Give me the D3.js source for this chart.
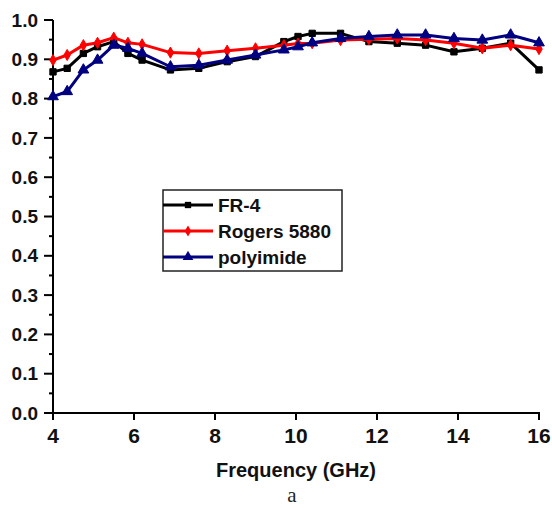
<!DOCTYPE html>
<html>
<head>
<meta charset="utf-8">
<script src="https://cdn.jsdelivr.net/npm/d3@7"></script>
<style>
    body { margin: 0; background: #fff; }
    svg { display: block; }
    .tick-label { font-family: "Liberation Sans", Arial, sans-serif; font-weight: bold; font-size: 19px; fill: #111; }
    .legend-text { font-family: "Liberation Sans", Arial, sans-serif; font-weight: bold; font-size: 19px; fill: #111; }
</style>
</head>
<body>
<svg id="chart" width="552" height="508"></svg>
<script>
'use strict';

// frequencies (GHz) of the plotted points
var freqs = [4.0, 4.35, 4.75, 5.1, 5.5, 5.85, 6.2, 6.9, 7.6, 8.3, 9.0, 9.7, 10.05, 10.4, 11.1, 11.8, 12.5, 13.2, 13.9, 14.6, 15.3, 16.0];

var fr4 = [0.868, 0.877, 0.915, 0.932, 0.945, 0.915, 0.898, 0.873, 0.877, 0.894, 0.907, 0.945, 0.958, 0.966, 0.966, 0.945, 0.941, 0.936, 0.919, 0.928, 0.941, 0.873];
var rogers = [0.898, 0.911, 0.936, 0.942, 0.955, 0.942, 0.938, 0.917, 0.915, 0.922, 0.928, 0.936, 0.940, 0.941, 0.949, 0.951, 0.953, 0.949, 0.941, 0.928, 0.936, 0.926];
var polyimide = [0.805, 0.818, 0.873, 0.898, 0.936, 0.928, 0.915, 0.881, 0.885, 0.898, 0.911, 0.924, 0.932, 0.942, 0.953, 0.958, 0.962, 0.962, 0.953, 0.949, 0.962, 0.942];

var seriesNames = ['FR-4', 'Rogers 5880', 'polyimide'];
var xTicks = [4, 6, 8, 10, 12, 14, 16];
var yTicks = [0.0, 0.1, 0.2, 0.3, 0.4, 0.5, 0.6, 0.7, 0.8, 0.9, 1.0];
var xTitle = 'Frequency (GHz)';
var caption = 'a';

var svg = d3.select('#chart');

var x = d3.scaleLinear().domain([4, 16]).range([53, 539]);
var y = d3.scaleLinear().domain([0, 1]).range([413, 20]);

var colors = ['#000000', '#ff0000', '#000080'];
var symbols = [d3.symbolSquare, d3.symbolDiamond, d3.symbolTriangle];
var symbolSizes = [40, 36, 50];

var series = [fr4, rogers, polyimide].map(function(values, i) {
    return values.map(function(v, j) {
        return { f: freqs[j], v: v, index: i };
    });
});

// y axis
var yAxis = svg.append('g').attr('transform', 'translate(' + x(4) + ',0)');
yAxis.append('line')
    .attr('x1', 0).attr('x2', 0)
    .attr('y1', y(1)).attr('y2', y(0))
    .attr('stroke', '#000').attr('stroke-width', 2);

d3.range(0, 21).forEach(function(i) {
    var v = i * 0.05;
    var major = (i % 2 === 0);
    yAxis.append('line')
        .attr('x1', major ? -9 : -4).attr('x2', 0)
        .attr('y1', y(v)).attr('y2', y(v))
        .attr('stroke', '#000').attr('stroke-width', 2);
});

yTicks.forEach(function(t) {
    yAxis.append('text')
        .attr('class', 'tick-label')
        .attr('x', -15)
        .attr('y', y(t))
        .attr('dy', '0.35em')
        .attr('text-anchor', 'end')
        .text(t.toFixed(1));
});

// x axis
var xAxis = svg.append('g').attr('transform', 'translate(0,' + y(0) + ')');
xAxis.append('line')
    .attr('x1', x(4) - 1).attr('x2', x(16) + 1)
    .attr('y1', 0).attr('y2', 0)
    .attr('stroke', '#000').attr('stroke-width', 2);

xTicks.forEach(function(t) {
    xAxis.append('line')
        .attr('x1', x(t)).attr('x2', x(t))
        .attr('y1', 0).attr('y2', 7)
        .attr('stroke', '#000').attr('stroke-width', 2);
    xAxis.append('text')
        .attr('class', 'tick-label')
        .attr('x', x(t))
        .attr('y', 30)
        .attr('text-anchor', 'middle')
        .style('font-size', '21px')
        .text(t);
});

svg.append('text')
    .attr('class', 'tick-label')
    .attr('x', 296)
    .attr('y', 477)
    .attr('text-anchor', 'middle')
    .style('font-size', '20px')
    .text(xTitle);

svg.append('text')
    .attr('x', 292)
    .attr('y', 502)
    .attr('text-anchor', 'middle')
    .style('font-family', '"Liberation Serif", "DejaVu Serif", serif')
    .style('font-size', '21px')
    .style('fill', '#222')
    .text(caption);

// lines
var line = d3.line()
    .x(function(d) { return x(d.f); })
    .y(function(d) { return y(d.v); });

var g = svg.append('g');

series.forEach(function(serie, i) {
    g.append('path')
        .datum(serie)
        .attr('d', line)
        .attr('fill', 'none')
        .attr('stroke', colors[i])
        .attr('stroke-width', 3)
        .attr('stroke-linejoin', 'round');

    g.selectAll('.marker-' + i)
        .data(serie)
        .enter().append('path')
        .attr('class', 'marker-' + i)
        .attr('d', d3.symbol().type(symbols[i]).size(symbolSizes[i]))
        .attr('transform', function(d) { return 'translate(' + x(d.f) + ',' + y(d.v) + ')'; })
        .attr('fill', colors[i])
        .attr('stroke', colors[i])
        .attr('stroke-width', 1);
});

// legend
var legend = svg.append('g').attr('transform', 'translate(163,190)');
legend.append('rect')
    .attr('x', 0).attr('y', 0)
    .attr('width', 179).attr('height', 81)
    .attr('fill', '#fff')
    .attr('stroke', '#222')
    .attr('stroke-width', 1.5);

seriesNames.forEach(function(name, i) {
    var ly = 15 + i * 26;
    legend.append('line')
        .attr('x1', 0).attr('x2', 50)
        .attr('y1', ly).attr('y2', ly)
        .attr('stroke', colors[i]).attr('stroke-width', 3);
    legend.append('path')
        .attr('d', d3.symbol().type(symbols[i]).size(symbolSizes[i]))
        .attr('transform', 'translate(25,' + ly + ')')
        .attr('fill', colors[i]);
    legend.append('text')
        .attr('class', 'legend-text')
        .attr('x', 55)
        .attr('y', ly)
        .attr('dy', '0.35em')
        .text(name);
});
</script>
</body>
</html>
